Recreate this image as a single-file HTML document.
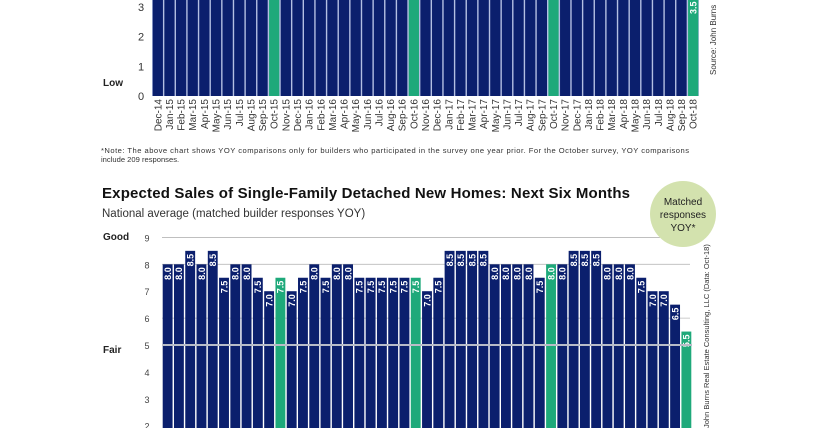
<!DOCTYPE html>
<html><head><meta charset="utf-8"><style>
body{margin:0;background:#fff;width:816px;height:428px;overflow:hidden;font-family:"Liberation Sans",sans-serif}
svg{display:block}
</style></head><body>
<svg id="c" width="816" height="428">
<g id="top"></g>
<g id="bot"></g>
<text x="103" y="86" font-size="10" font-weight="bold" fill="#222">Low</text>
<text x="101" y="153" font-size="7.6" fill="#333" textLength="588">*Note: The above chart shows YOY comparisons only for builders who participated in the survey one year prior. For the October survey, YOY comparisons</text>
<text x="101" y="162" font-size="7.6" fill="#333">include 209 responses.</text>
<text x="102" y="198" font-size="15" font-weight="bold" fill="#111" textLength="528">Expected Sales of Single-Family Detached New Homes: Next Six Months</text>
<text x="102" y="217" font-size="11.5" fill="#333">National average (matched builder responses YOY)</text>
<text x="103" y="240" font-size="10" font-weight="bold" fill="#222">Good</text>
<text x="103" y="353" font-size="10" font-weight="bold" fill="#222">Fair</text>
<g>
<circle cx="683" cy="214" r="33" fill="#d3e2ae"/>
<text x="683" y="205" font-size="10" text-anchor="middle" fill="#222">Matched</text>
<text x="683" y="218" font-size="10" text-anchor="middle" fill="#222">responses</text>
<text x="683" y="231" font-size="10" text-anchor="middle" fill="#222">YOY*</text>
</g>
<text transform="translate(716,75) rotate(-90)" font-size="8" fill="#333">Source: John Burns</text>
<text transform="translate(709,428) rotate(-90)" font-size="7.5" fill="#333">John Burns Real Estate Consulting, LLC (Data: Oct-18)</text>
</svg>
<script>
const months = ["Dec-14","Jan-15","Feb-15","Mar-15","Apr-15","May-15","Jun-15","Jul-15","Aug-15","Sep-15","Oct-15","Nov-15","Dec-15","Jan-16","Feb-16","Mar-16","Apr-16","May-16","Jun-16","Jul-16","Aug-16","Sep-16","Oct-16","Nov-16","Dec-16","Jan-17","Feb-17","Mar-17","Apr-17","May-17","Jun-17","Jul-17","Aug-17","Sep-17","Oct-17","Nov-17","Dec-17","Jan-18","Feb-18","Mar-18","Apr-18","May-18","Jun-18","Jul-18","Aug-18","Sep-18","Oct-18"];
const topValues = [5,5,5,5,5,5,5,5,5,5,5,5,5,5,5,5,5,5,5,5,5,5,5,5,5,5,5,5,5,5,5,5,5,5,5,5,5,5,5,5,5,5,5,5,5,5,3.5];
const botValues = [8.0,8.0,8.5,8.0,8.5,7.5,8.0,8.0,7.5,7.0,7.5,7.0,7.5,8.0,7.5,8.0,8.0,7.5,7.5,7.5,7.5,7.5,7.5,7.0,7.5,8.5,8.5,8.5,8.5,8.0,8.0,8.0,8.0,7.5,8.0,8.0,8.5,8.5,8.5,8.0,8.0,8.0,7.5,7.0,7.0,6.5,5.5];
const topTicks = [0,1,2,3];
const botTicks = [2,3,4,5,6,7,8,9];
const NS="http://www.w3.org/2000/svg";
function mk(parent,tag,attrs){const e=document.createElementNS(NS,tag);for(const k in attrs)e.setAttribute(k,attrs[k]);parent.appendChild(e);return e;}
const NAVY="#0b1f6d", GREEN="#1ea97a";
const isGreen=m=>m.startsWith("Oct");
const tg=document.getElementById("top");
const tX0=152,tX1=699,tStep=(tX1-tX0)/months.length;
const tY=v=>96-v*29.7;
mk(tg,"rect",{x:tX0,y:0,width:tX1-tX0,height:96,fill:"#b4bfe2"});
topValues.forEach((v,i)=>{
  const r=mk(tg,"rect",{x:tX0+i*tStep+0.7,y:tY(v),width:tStep-1.4,height:96-tY(v),fill:isGreen(months[i])?GREEN:NAVY});
  
  
  if(i===months.length-1){
    const t=mk(tg,"text",{transform:`translate(${tX0+i*tStep+tStep/2+3.5},${tY(v)+22}) rotate(-90)`,"font-size":"9","font-weight":"bold",fill:"#fff"});
    t.textContent=v.toFixed(1);
    
    
  }
});
topTicks.forEach(t=>{
  const e=mk(tg,"text",{x:141,y:tY(t)+4,"font-size":"11","text-anchor":"middle",fill:"#333"});
  e.textContent=t;
  
  
});
months.forEach((m,i)=>{
  const e=mk(tg,"text",{transform:`translate(${tX0+i*tStep+tStep/2+3.5},${99}) rotate(-90)`,"font-size":"10","text-anchor":"end",fill:"#333"});
  e.textContent=m;
  
  
});
const bg=document.getElementById("bot");
const bX0=162,bX1=692,bStep=(bX1-bX0)/months.length;
const bY=v=>345-(v-5)*26.9;
mk(bg,"line",{x1:bX0,x2:660,y1:bY(9),y2:bY(9),stroke:"#aaa","stroke-width":"0.8"});
[8,6].forEach(g=>mk(bg,"line",{x1:bX0,x2:690,y1:bY(g),y2:bY(g),stroke:"#bbb","stroke-width":"0.8"}));
botTicks.forEach(t=>{
  const e=mk(bg,"text",{x:147,y:bY(t)+4,"font-size":"9","text-anchor":"middle",fill:"#444"});
  e.textContent=t;
  
  
});
botValues.forEach((v,i)=>{
  const x=bX0+i*bStep;
  const r=mk(bg,"rect",{x:x+0.7,y:bY(v),width:bStep-1.4,height:440-bY(v),fill:isGreen(months[i])?GREEN:NAVY});
  
  
  const t=mk(bg,"text",{transform:`translate(${x+bStep/2+3.3},${bY(v)+3}) rotate(-90)`,"font-size":"9","font-weight":"bold","text-anchor":"end",fill:"#fff"});
  t.textContent=v.toFixed(1);
  
  
});
mk(bg,"line",{x1:bX0,x2:bX1,y1:bY(5),y2:bY(5),stroke:"#b8bcc8","stroke-width":"2"});
</script>
</body></html>
